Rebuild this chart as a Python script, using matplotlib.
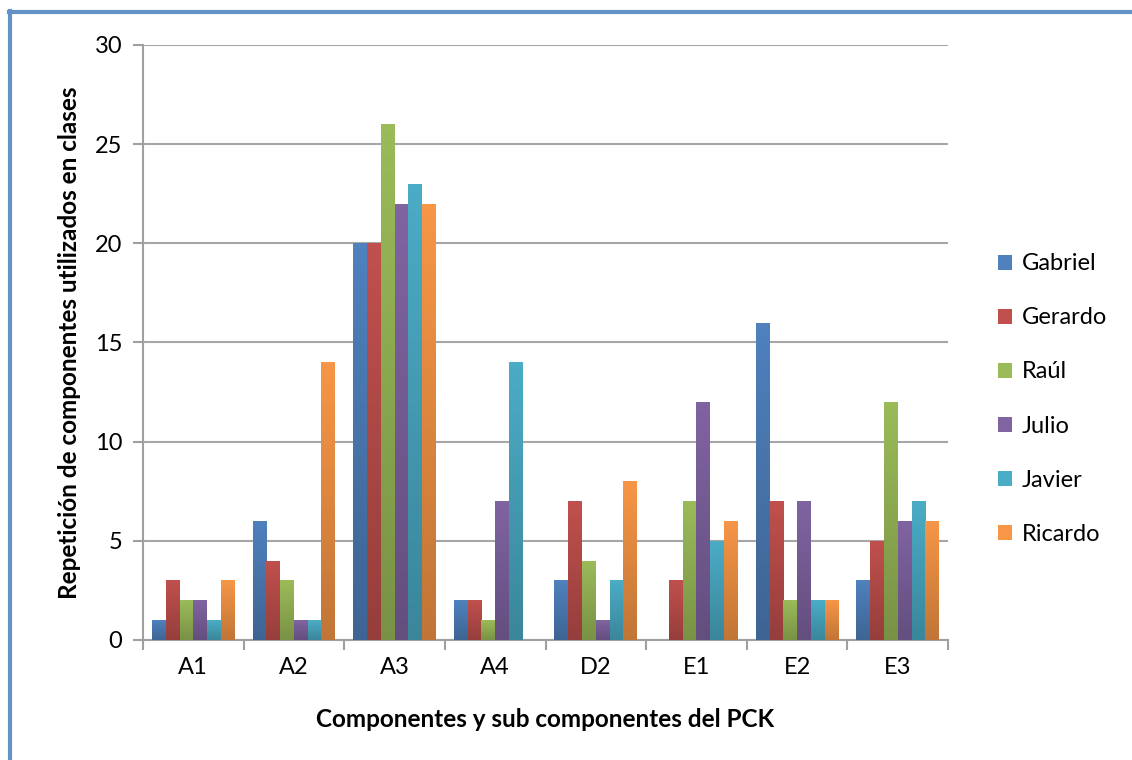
import numpy as np
import matplotlib
matplotlib.use('Agg')
import matplotlib.pyplot as plt
from matplotlib.colors import LinearSegmentedColormap, to_rgb

# datos
categorias = ["A1", "A2", "A3", "A4", "D2", "E1", "E2", "E3"]
nombres = ["Gabriel", "Gerardo", "Raúl", "Julio", "Javier", "Ricardo"]
gabriel = [1, 6, 20, 2, 3, 0, 16, 3]
gerardo = [3, 4, 20, 2, 7, 3, 7, 5]
raul = [2, 3, 26, 1, 4, 7, 2, 12]
julio = [2, 1, 22, 7, 1, 12, 7, 6]
javier = [1, 1, 23, 14, 3, 5, 2, 7]
ricardo = [3, 14, 22, 0, 8, 6, 2, 6]
series = [gabriel, gerardo, raul, julio, javier, ricardo]

colores = ["#4F81BD", "#C0504D", "#9BBB59", "#8064A2", "#4BACC6", "#F79646"]

plt.rcParams['font.family'] = ['Lato', 'DejaVu Sans']

fig = plt.figure(figsize=(11.32, 7.6), dpi=100)
ax = fig.add_axes([0.1263, 0.1579, 0.7112, 0.7829])

x = np.arange(len(categorias))
ancho = 0.137
n = len(series)

def oscurecer(c, f):
    r, g, b = to_rgb(c)
    return (r * f, g * f, b * f)

for k, (vals, nom, col) in enumerate(zip(series, nombres, colores)):
    pos = x + (k - (n - 1) / 2) * ancho
    barras = ax.bar(pos, vals, ancho, color=col, label=nom, zorder=3, linewidth=0)
    cmap = LinearSegmentedColormap.from_list("g" + nom, [oscurecer(col, 0.78), to_rgb(col)])
    for b in barras:
        h = b.get_height()
        if h <= 0:
            continue
        x0 = b.get_x()
        im = ax.imshow(np.linspace(0, 1, 64).reshape(-1, 1), cmap=cmap, origin='lower',
                       extent=[x0, x0 + b.get_width(), 0, h], aspect='auto', zorder=3.5)
        im.set_clip_path(b)

ax.set_xlim(-0.5, len(categorias) - 0.5)
ax.set_ylim(0, 30)
ax.set_yticks(range(0, 31, 5))
ax.set_xticks(x)
ax.set_xticklabels(categorias)
ax.set_xticks(np.arange(-0.5, len(categorias), 1), minor=True)
ax.tick_params(axis='x', which='major', length=0, pad=12, labelsize=17)
ax.tick_params(axis='x', which='minor', length=7, width=1.5, color='#A0A0A0')
ax.tick_params(axis='y', length=7, width=1.5, color='#A0A0A0', labelsize=17, pad=8)

ax.grid(axis='y', color='#A6A6A6', linewidth=1.5, zorder=0)
for s in ['top', 'right']:
    ax.spines[s].set_visible(False)
for s in ['left', 'bottom']:
    ax.spines[s].set_color('#A0A0A0')
    ax.spines[s].set_linewidth(1.5)

ax.set_ylabel("Repetición de componentes utilizados en clases", fontsize=17.5, fontweight='bold', labelpad=10)
ax.set_xlabel("Componentes y sub componentes del PCK", fontsize=17.5, fontweight='bold', labelpad=22)

ax.legend(loc='center left', bbox_to_anchor=(1.036, 0.405), frameon=False, fontsize=17,
          handlelength=0.6, handleheight=0.6, labelspacing=1.4, handletextpad=0.4)

# marco azul de la imagen
fig.add_artist(plt.Line2D([0.009, 0.009], [0, 0.985], color='#6193C6', linewidth=3))
fig.add_artist(plt.Line2D([0.0078, 1], [0.984, 0.984], color='#6193C6', linewidth=3))

fig.savefig("out.png", dpi=100)
